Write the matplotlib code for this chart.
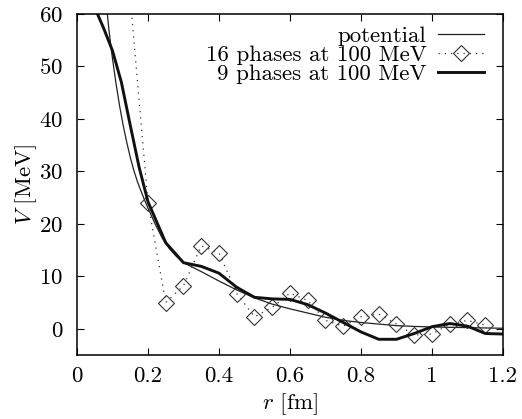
import matplotlib
matplotlib.use("Agg")
import matplotlib.pyplot as plt

plt.rcParams["font.family"] = "cmr10"
plt.rcParams["mathtext.fontset"] = "cm"
plt.rcParams["axes.unicode_minus"] = False
plt.rcParams["axes.formatter.use_mathtext"] = True

# potential (thin line)
r_pot = [0.08, 0.0854, 0.09, 0.095, 0.10, 0.11, 0.12, 0.13, 0.14, 0.15, 0.16,
         0.17, 0.18, 0.19, 0.20, 0.22, 0.24, 0.26, 0.28, 0.30, 0.35, 0.40,
         0.45, 0.50, 0.55, 0.60, 0.65, 0.70, 0.75, 0.80, 0.85, 0.90, 0.95,
         1.00, 1.05, 1.10, 1.15, 1.20]
v_pot = [64.0, 60.0, 57.0, 54.1, 51.5, 46.7, 42.5, 38.8, 35.6, 32.7, 30.2,
         28.1, 26.3, 24.6, 23.0, 20.0, 17.3, 15.3, 13.8, 12.6, 10.9, 9.1,
         7.4, 5.9, 4.7, 3.8, 3.0, 2.2, 1.6, 1.2, 0.9, 0.6, 0.45,
         0.35, 0.28, 0.22, 0.16, 0.1]

# 16 phases at 100 MeV (diamonds, dotted)
r_16 = [0.15, 0.20, 0.25, 0.30, 0.35, 0.40, 0.45, 0.50, 0.55, 0.60, 0.65,
        0.70, 0.75, 0.80, 0.85, 0.90, 0.95, 1.00, 1.05, 1.10, 1.15]
v_16 = [63.0, 24.0, 5.0, 8.2, 15.8, 14.5, 6.7, 2.3, 4.1, 6.8, 5.4,
        1.6, 0.5, 2.3, 2.8, 0.9, -1.2, -1.0, 0.9, 1.6, 0.7]

# 9 phases at 100 MeV (thick line)
r_9 = [0.05, 0.075, 0.10, 0.125, 0.15, 0.175, 0.20, 0.25, 0.30, 0.35, 0.40,
       0.45, 0.50, 0.55, 0.60, 0.65, 0.70, 0.75, 0.80, 0.85, 0.90, 0.95,
       1.00, 1.05, 1.10, 1.15, 1.20]
v_9 = [61.2, 57.3, 53.0, 47.0, 38.8, 30.8, 24.2, 16.4, 12.6, 11.9, 10.6,
       7.9, 6.0, 5.7, 5.6, 4.6, 3.0, 1.2, -0.6, -2.0, -2.0, -0.9,
       0.4, 1.0, 0.5, -0.9, -1.0]

fs = 16.5

fig = plt.figure(figsize=(5.22, 4.19), dpi=100)
ax = fig.add_axes([0.1475, 0.1527, 0.8161, 0.8139])

ax.plot(r_pot, v_pot, color="#222222", lw=0.9, label="potential")
ax.plot(r_16, v_16, color="#333333", lw=0.9, ls=(0, (1, 4)), marker="D",
        ms=8, mfc="none", mec="#333333", mew=0.8,
        label="16 phases at 100 MeV")
ax.plot(r_9, v_9, color="#111111", lw=2.1, label="9 phases at 100 MeV")

ax.set_xlim(0, 1.2)
ax.set_ylim(-5, 60)
ax.set_xticks([0, 0.2, 0.4, 0.6, 0.8, 1.0, 1.2])
ax.set_xticklabels(["0", "0.2", "0.4", "0.6", "0.8", "1", "1.2"])
ax.set_yticks([0, 10, 20, 30, 40, 50, 60])
ax.tick_params(direction="in", top=True, right=True, length=5, width=0.8,
               labelsize=fs, pad=8)
ax.tick_params(axis="y", pad=10)
for s in ax.spines.values():
    s.set_linewidth(1.1)

ax.set_xlabel(r"$r$ [fm]", fontsize=fs, labelpad=4)
ax.set_ylabel(r"$V$ [MeV]", fontsize=fs, labelpad=0)

ax.legend(loc="upper right", bbox_to_anchor=(0.955, 0.965), frameon=False,
          markerfirst=False, fontsize=fs, handlelength=2.0,
          handletextpad=0.5, labelspacing=-0.05, borderaxespad=0,
          borderpad=0)

fig.savefig("out.png", dpi=100)
